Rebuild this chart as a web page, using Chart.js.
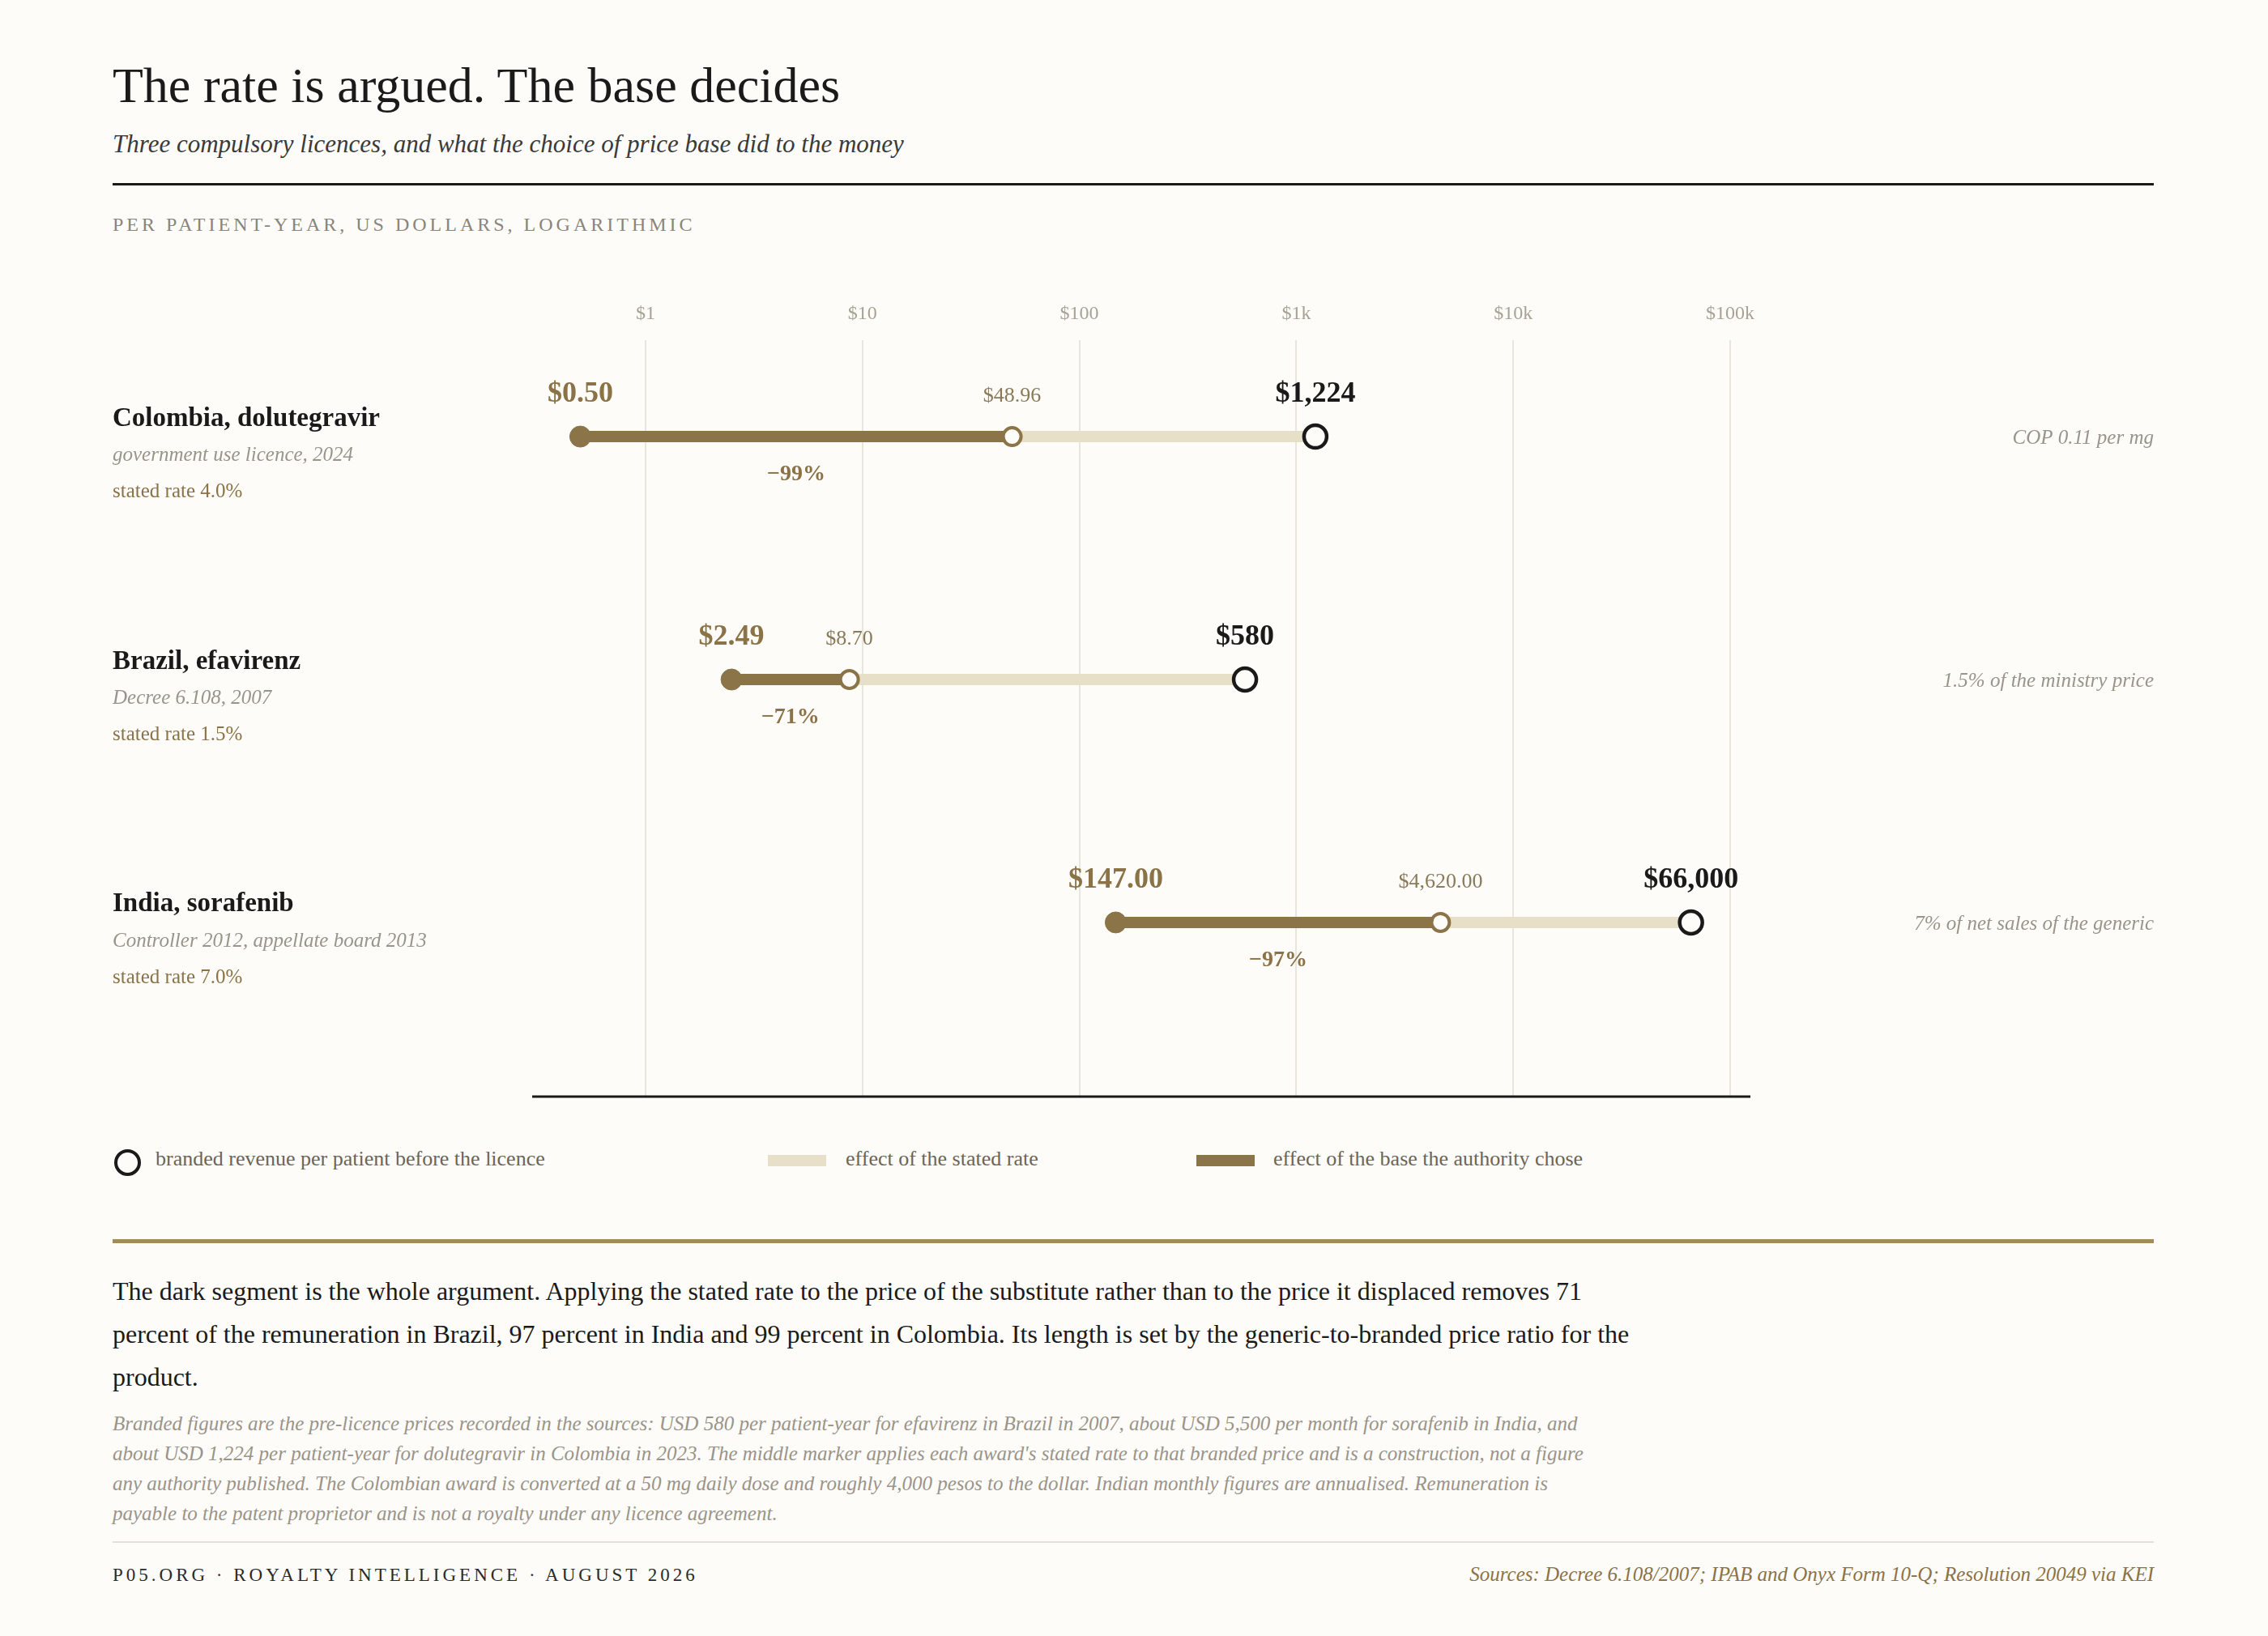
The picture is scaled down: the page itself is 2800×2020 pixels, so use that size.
<!DOCTYPE html>
<html>
<head>
<title>The rate is argued. The base decides</title>
<script src="https://cdn.jsdelivr.net/npm/chart.js"></script>
<style>
  body { margin:0; width:2800px; height:2020px; background:#fdfcf8; font-family:"Liberation Serif", serif; position:relative; overflow:hidden; }
  .abs { position:absolute; }
  h1 { position:absolute; left:139px; top:70px; margin:0; font-size:62px; font-weight:normal; color:#1a1a1a; }
  .sub { left:139px; top:160px; font-size:31px; font-style:italic; color:#3a3a3a; }
  .rule { left:139px; width:2520px; height:3px; background:#1a1a1a; top:226px; }
  .unit { left:139px; top:264px; font-size:24px; letter-spacing:4px; color:#8a857a; }
  .legend { top:1416px; font-size:26px; color:#6b6458; }
  .gold { left:139px; width:2520px; height:5px; background:#a38b5a; top:1530px; }
  .para { left:139px; top:1568px; width:1900px; font-size:32px; line-height:53px; color:#1a1a1a; }
  .note { left:139px; top:1739px; width:1830px; font-size:25px; line-height:37px; font-style:italic; color:#9a948a; }
  .thin { left:139px; width:2520px; height:2px; background:#e3e0d8; top:1903px; }
  .foot { left:139px; top:1932px; font-size:23px; letter-spacing:4px; color:#2a2a2a; }
  .src { right:141px; top:1930px; font-size:25px; font-style:italic; color:#8b7347; }
</style>
</head>
<body>
<h1>The rate is argued. The base decides</h1>
<div class="abs sub">Three compulsory licences, and what the choice of price base did to the money</div>
<div class="abs rule"></div>
<div class="abs unit">PER PATIENT-YEAR, US DOLLARS, LOGARITHMIC</div>
<div class="abs" style="left:139px;top:357px;width:2520px;height:1020px;"><canvas id="c" width="2520" height="1020"></canvas></div>

<div class="abs legend" style="left:141px;top:1419px;width:25px;height:25px;border:4px solid #1a1a1a;border-radius:50%;"></div>
<div class="abs legend" style="left:192px;">branded revenue per patient before the licence</div>
<div class="abs" style="left:948px;top:1426px;width:72px;height:14px;background:#e8dfc8;"></div>
<div class="abs legend" style="left:1044px;">effect of the stated rate</div>
<div class="abs" style="left:1477px;top:1426px;width:72px;height:14px;background:#8a7448;"></div>
<div class="abs legend" style="left:1572px;">effect of the base the authority chose</div>

<div class="abs gold"></div>
<div class="abs para">The dark segment is the whole argument. Applying the stated rate to the price of the substitute rather than to the price it displaced removes 71 percent of the remuneration in Brazil, 97 percent in India and 99 percent in Colombia. Its length is set by the generic-to-branded price ratio for the product.</div>
<div class="abs note">Branded figures are the pre-licence prices recorded in the sources: USD 580 per patient-year for efavirenz in Brazil in 2007, about USD 5,500 per month for sorafenib in India, and about USD 1,224 per patient-year for dolutegravir in Colombia in 2023. The middle marker applies each award's stated rate to that branded price and is a construction, not a figure any authority published. The Colombian award is converted at a 50 mg daily dose and roughly 4,000 pesos to the dollar. Indian monthly figures are annualised. Remuneration is payable to the patent proprietor and is not a royalty under any licence agreement.</div>
<div class="abs thin"></div>
<div class="abs foot">P05.ORG · ROYALTY INTELLIGENCE · AUGUST 2026</div>
<div class="abs src">Sources: Decree 6.108/2007; IPAB and Onyx Form 10-Q; Resolution 20049 via KEI</div>

<script>
  // rows, top to bottom
  const cases = ['Colombia, dolutegravir', 'Brazil, efavirenz', 'India, sorafenib'];
  const instruments = ['government use licence, 2024', 'Decree 6.108, 2007', 'Controller 2012, appellate board 2013'];
  const statedRates = ['stated rate 4.0%', 'stated rate 1.5%', 'stated rate 7.0%'];
  const baseNotes = ['COP 0.11 per mg', '1.5% of the ministry price', '7% of net sales of the generic'];

  const awarded = [0.50, 2.49, 147.00];      // rate applied to the chosen base
  const statedOnBranded = [48.96, 8.70, 4620.00];
  const branded = [1224, 580, 66000];
  const awardedLabels = ['$0.50', '$2.49', '$147.00'];
  const statedLabels = ['$48.96', '$8.70', '$4,620.00'];
  const brandedLabels = ['$1,224', '$580', '$66,000'];
  const cuts = ['\u221299%', '\u221271%', '\u221297%'];
  const tickLabels = {1: '$1', 10: '$10', 100: '$100', 1000: '$1k', 10000: '$10k', 100000: '$100k'};

  const DARK = '#8a7448', LIGHT = '#e8dfc8', GOLDTXT = '#8b7347';

  function segments(from, to) {
    const out = [];
    from.forEach((v, i) => { out.push({x: v, y: i}, {x: to[i], y: i}, {x: to[i], y: null}); });
    return out;
  }

  const annotate = {
    id: 'annotate',
    afterDatasetsDraw(chart) {
      const {ctx, scales: {x, y}, chartArea} = chart;
      ctx.save();
      // bottom rule
      ctx.strokeStyle = '#1a1a1a'; ctx.lineWidth = 3;
      ctx.beginPath(); ctx.moveTo(chartArea.left, chartArea.bottom); ctx.lineTo(chartArea.right, chartArea.bottom); ctx.stroke();
      cases.forEach((name, i) => {
        const py = y.getPixelForValue(i);
        ctx.textAlign = 'left'; ctx.textBaseline = 'middle';
        ctx.fillStyle = '#1a1a1a'; ctx.font = 'bold 33px "Liberation Serif"';
        ctx.fillText(name, 0, py - 22);
        ctx.fillStyle = '#9a948a'; ctx.font = 'italic 25px "Liberation Serif"';
        ctx.fillText(instruments[i], 0, py + 23);
        ctx.fillStyle = GOLDTXT; ctx.font = '25px "Liberation Serif"';
        ctx.fillText(statedRates[i], 0, py + 68);
        ctx.textAlign = 'right'; ctx.fillStyle = '#9a948a'; ctx.font = 'italic 25px "Liberation Serif"';
        ctx.fillText(baseNotes[i], chart.width, py + 2);

        ctx.textAlign = 'center';
        const xa = x.getPixelForValue(awarded[i]), xm = x.getPixelForValue(statedOnBranded[i]), xb = x.getPixelForValue(branded[i]);
        ctx.fillStyle = GOLDTXT; ctx.font = 'bold 36px "Liberation Serif"';
        ctx.fillText(awardedLabels[i], xa, py - 52);
        ctx.fillStyle = '#8a7a5a'; ctx.font = '26px "Liberation Serif"';
        ctx.fillText(statedLabels[i], xm, py - 50);
        ctx.fillStyle = '#1a1a1a'; ctx.font = 'bold 36px "Liberation Serif"';
        ctx.fillText(brandedLabels[i], xb, py - 52);
        ctx.fillStyle = GOLDTXT; ctx.font = 'bold 28px "Liberation Serif"';
        ctx.fillText(cuts[i], (xa + xm) / 2, py + 47);
      });
      ctx.restore();
    }
  };

  new Chart(document.getElementById('c'), {
    type: 'line',
    data: {
      datasets: [
        { data: segments(statedOnBranded, branded), borderColor: LIGHT, borderWidth: 14, pointRadius: 0, spanGaps: false, order: 5 },
        { data: segments(awarded, statedOnBranded), borderColor: DARK, borderWidth: 14, pointRadius: 0, spanGaps: false, order: 4 },
        { data: awarded.map((v, i) => ({x: v, y: i})), showLine: false, pointRadius: 13, pointBackgroundColor: DARK, pointBorderColor: DARK, order: 3 },
        { data: statedOnBranded.map((v, i) => ({x: v, y: i})), showLine: false, pointRadius: 11, pointBorderWidth: 4, pointBackgroundColor: '#fdfcf8', pointBorderColor: DARK, order: 2 },
        { data: branded.map((v, i) => ({x: v, y: i})), showLine: false, pointRadius: 14, pointBorderWidth: 4.5, pointBackgroundColor: '#fdfcf8', pointBorderColor: '#1a1a1a', order: 1 }
      ]
    },
    options: {
      responsive: false, animation: false,
      layout: { padding: { left: 518, right: 498, top: 0, bottom: 23 } },
      scales: {
        x: {
          type: 'logarithmic', position: 'top', min: 0.302, max: 124000,
          border: { display: false },
          grid: { color: '#e9e6de', lineWidth: 2, drawTicks: false },
          afterFit(s) { s.height = 63; },
          afterBuildTicks(s) { s.ticks = Object.keys(tickLabels).map(v => ({value: +v})); },
          ticks: { callback: v => tickLabels[v] || '', color: '#a8a295', font: { family: 'Liberation Serif', size: 24 }, padding: 18, maxRotation: 0, autoSkip: false }
        },
        y: { type: 'linear', reverse: true, min: -0.397, max: 2.717, display: false }
      },
      plugins: { legend: { display: false }, tooltip: { enabled: false } }
    },
    plugins: [annotate]
  });
</script>
</body>
</html>
